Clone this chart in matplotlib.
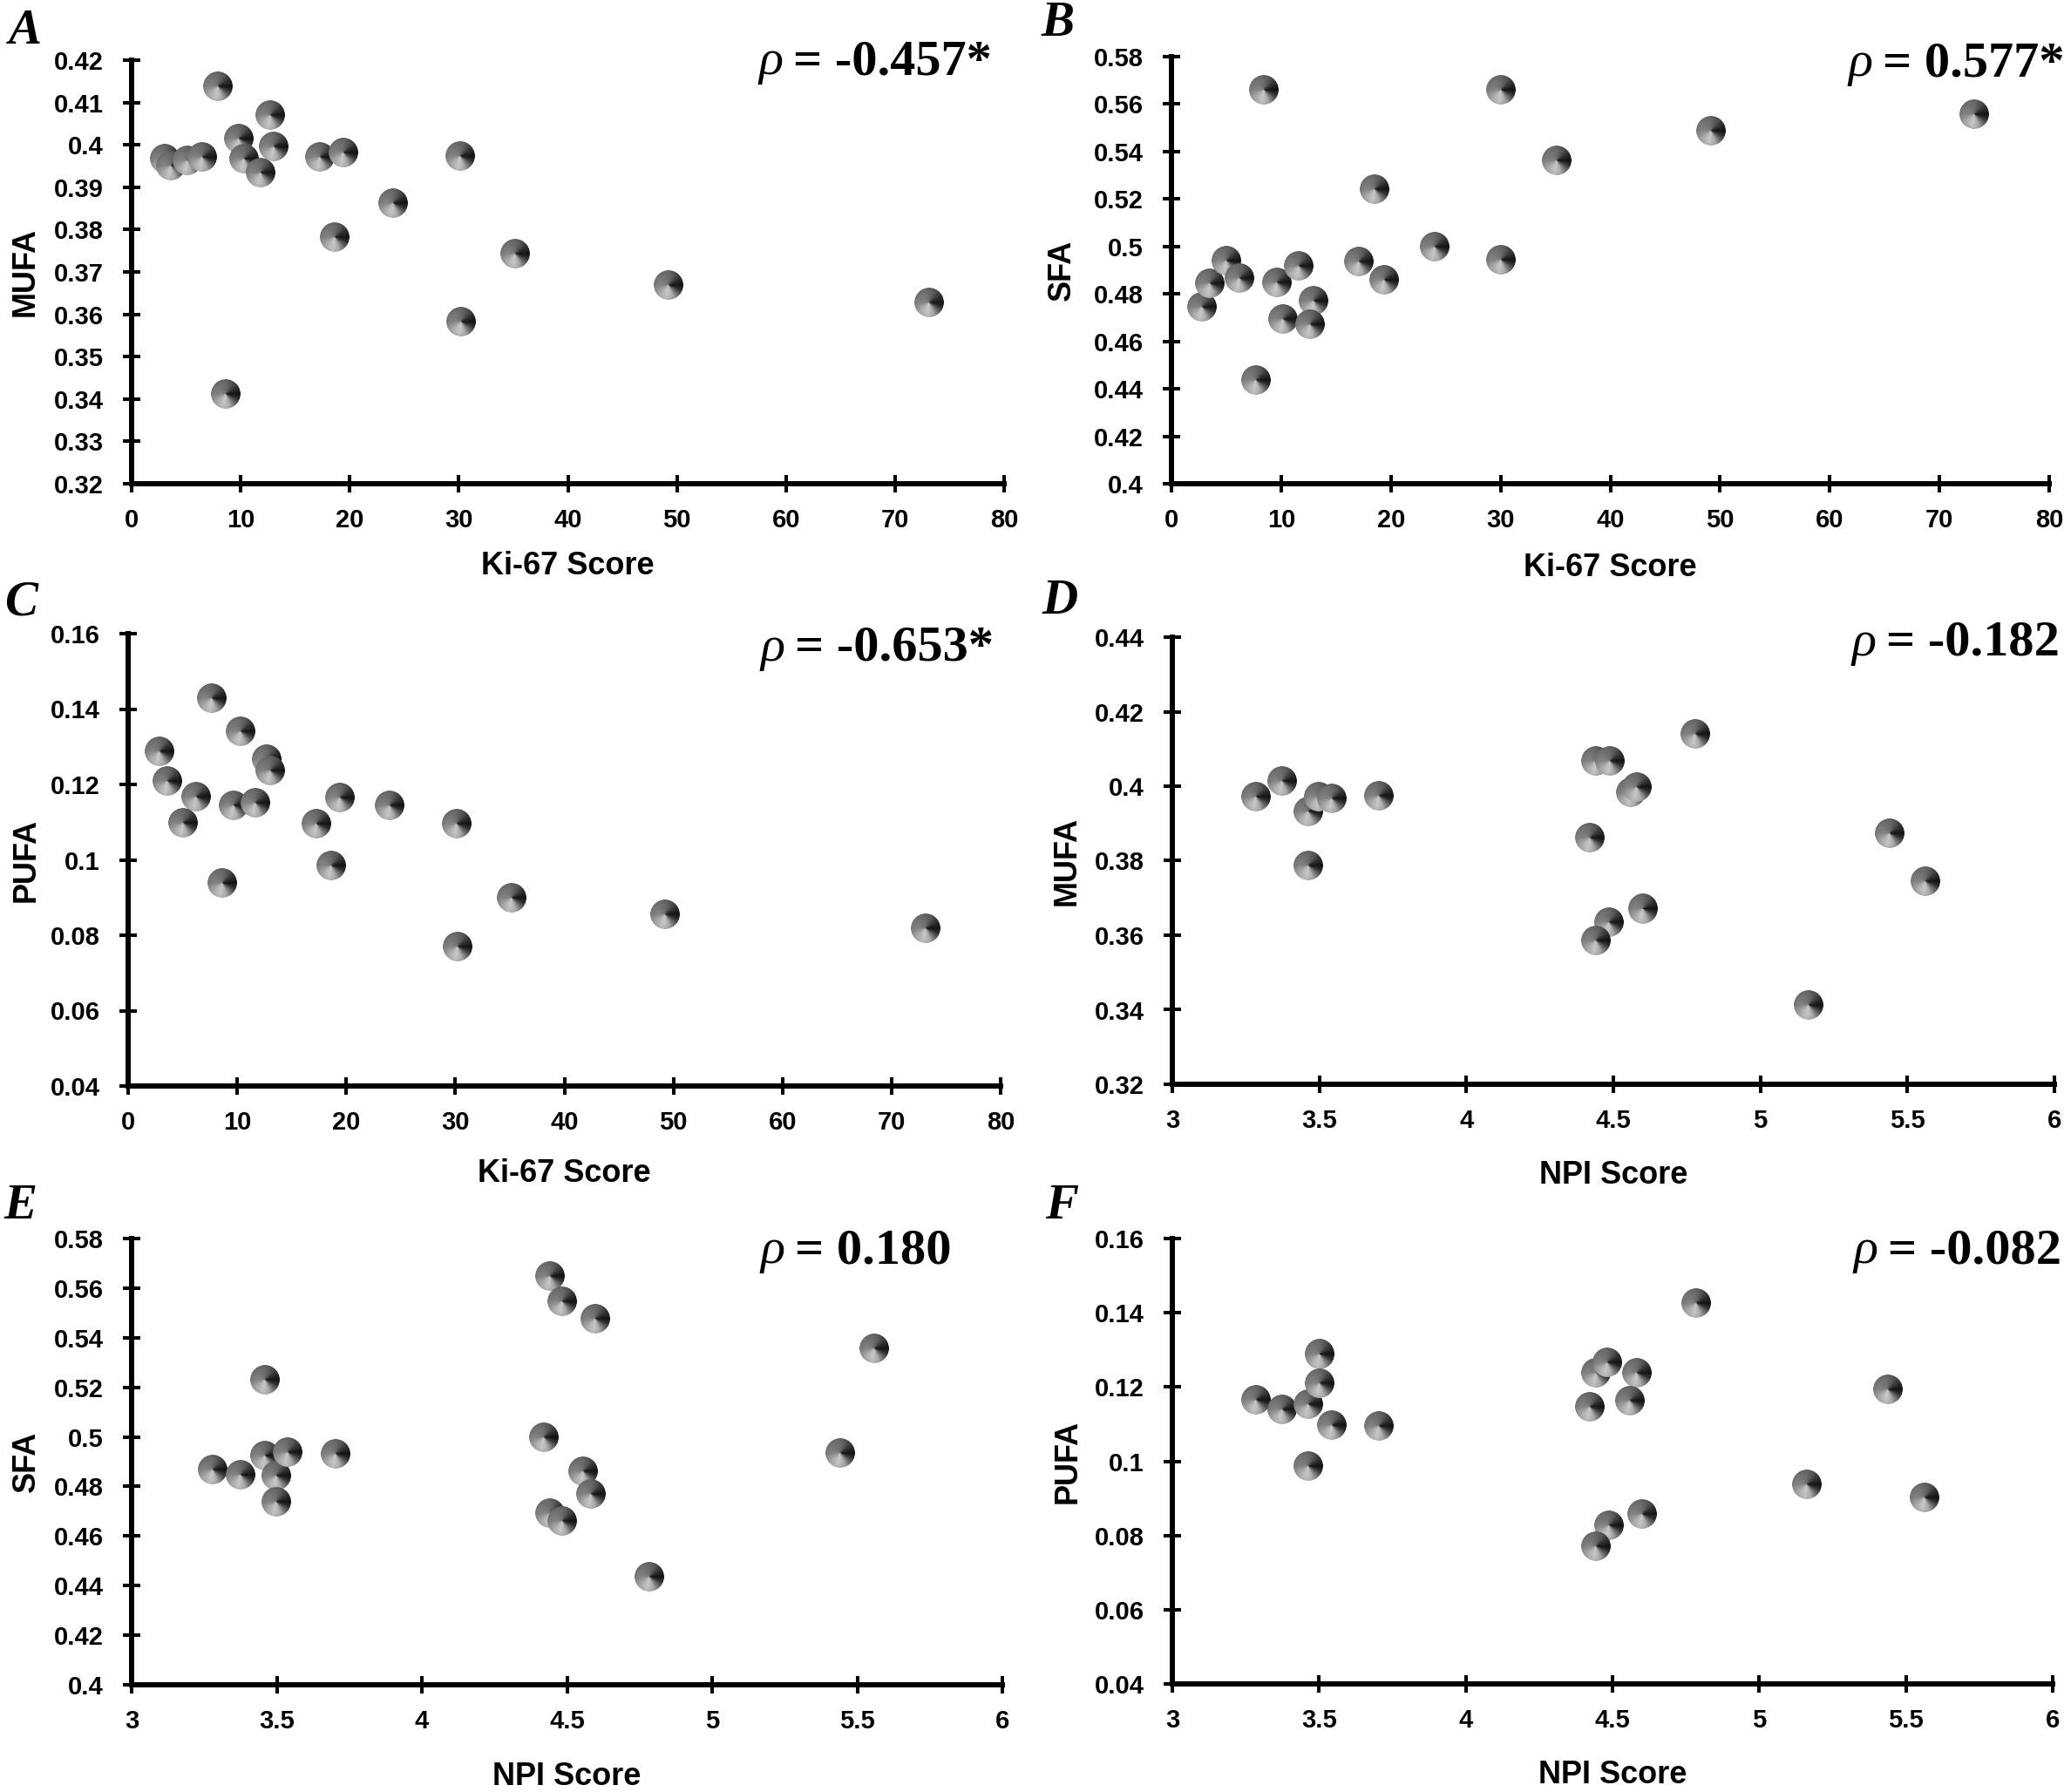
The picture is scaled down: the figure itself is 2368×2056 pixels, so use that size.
import numpy as np
import matplotlib
matplotlib.use('Agg')
import matplotlib.pyplot as plt
from matplotlib.offsetbox import OffsetImage, AnnotationBbox

# ---- data ----
# A: Ki-67 vs MUFA
ki67_a = [3.0, 3.6, 5.1, 6.5, 7.9, 8.6, 9.8, 10.3, 11.8, 12.7, 13.0, 17.3, 19.4, 18.6, 24.0, 30.1, 30.2, 35.2, 49.2, 73.1]
mufa_a = [0.3968, 0.395, 0.3963, 0.3972, 0.4139, 0.3412, 0.4014, 0.3968, 0.3934, 0.4071, 0.3996, 0.3972, 0.3981,
          0.3783, 0.3863, 0.3973, 0.3582, 0.3743, 0.3669, 0.3629]
# B: Ki-67 vs SFA
ki67_b = [2.8, 3.5, 5.0, 6.2, 7.7, 8.4, 9.6, 10.2, 11.6, 12.96, 12.6, 17.1, 18.5, 19.4, 24.0, 30.0, 30.0, 35.1, 49.2, 73.2]
sfa_b = [0.4745, 0.4844, 0.494, 0.4868, 0.4438, 0.5661, 0.4847, 0.4693, 0.4919, 0.4773, 0.4672, 0.4935, 0.5243,
         0.486, 0.5, 0.5661, 0.4943, 0.5362, 0.5486, 0.5556]
# C: Ki-67 vs PUFA
ki67_c = [2.9, 3.6, 6.2, 5.0, 7.7, 8.6, 10.3, 9.7, 11.7, 12.7, 13.0, 17.3, 19.4, 18.6, 24.0, 30.1, 30.2, 35.2, 49.2, 73.1]
pufa_c = [0.1289, 0.121, 0.1167, 0.1099, 0.143, 0.0938, 0.134, 0.1144, 0.1152, 0.1267, 0.1237, 0.1095, 0.1165,
          0.0986, 0.1145, 0.1095, 0.0771, 0.09, 0.0856, 0.0819]
# D: NPI vs MUFA
npi_d = [3.284, 3.374, 3.463, 3.497, 3.542, 3.463, 3.703, 4.442, 4.487, 4.78, 4.56, 4.58, 4.42, 4.486, 4.442,
         4.60, 5.165, 5.44, 5.56]
mufa_d = [0.3972, 0.4014, 0.3931, 0.3972, 0.3967, 0.3787, 0.3975, 0.4068, 0.4068, 0.4141, 0.3984, 0.3997, 0.3863,
          0.3635, 0.3586, 0.3671, 0.3413, 0.3873, 0.3746]
# E: NPI vs SFA
npi_e = [3.279, 3.374, 3.458, 3.458, 3.499, 3.499, 3.537, 3.703, 4.442, 4.483, 4.599, 4.42, 4.556, 4.583, 4.442,
         4.483, 4.785, 5.442, 5.56]
sfa_e = [0.487, 0.4848, 0.523, 0.4926, 0.4842, 0.474, 0.4938, 0.4933, 0.565, 0.5546, 0.5476, 0.4997, 0.486,
         0.4771, 0.4694, 0.4662, 0.4436, 0.4935, 0.5356]
# F: NPI vs PUFA
npi_f = [3.285, 3.375, 3.464, 3.503, 3.503, 3.545, 3.464, 3.705, 4.443, 4.481, 4.582, 4.422, 4.559, 4.784, 4.487,
         4.443, 4.602, 5.163, 5.439, 5.562]
pufa_f = [0.1166, 0.114, 0.1154, 0.1287, 0.121, 0.1098, 0.0987, 0.1096, 0.1238, 0.1266, 0.1238, 0.1146, 0.1163,
          0.1427, 0.0828, 0.077, 0.0857, 0.0938, 0.1193, 0.0902]

letters = ['A', 'B', 'C', 'D', 'E', 'F']
rho_texts = ['= -0.457*', '= 0.577*', '= -0.653*', '= -0.182', '= 0.180', '= -0.082']
xlabels = ['Ki-67 Score', 'Ki-67 Score', 'Ki-67 Score', 'NPI Score', 'NPI Score', 'NPI Score']
ylabels = ['MUFA', 'SFA', 'PUFA', 'MUFA', 'SFA', 'PUFA']

W, H = 2368, 2056
fig = plt.figure(figsize=(W / 100, H / 100), dpi=100)
fig.patch.set_facecolor('white')


def ball_image(n=99):
    """grey metallic ball with a conic shading"""
    yy, xx = np.mgrid[0:n, 0:n]
    c = (n - 1) / 2
    dx = (xx - c) / c
    dy = (c - yy) / c
    r = np.hypot(dx, dy)
    ang = np.degrees(np.arctan2(dy, dx)) % 360
    angs = [0, 30, 60, 90, 135, 180, 225, 260, 290, 315, 340, 360]
    vals = [20, 50, 88, 108, 120, 132, 178, 202, 176, 112, 48, 20]
    g = np.interp(ang, angs, vals) / 255.0
    g = g * (1 - 0.12 * r ** 4)
    alpha = np.clip((1 - r) * c / 2.0 + 0.5, 0, 1)
    return np.dstack([g, g, g, alpha])


ball = ball_image()
ball_zoom = 34 / (99 * 100 / 72)

# panel geometry in pixels: left, right, top, bottom
boxes = [(151, 1152, 69, 555), (1344, 2351, 65, 555),
         (147, 1148, 727, 1246), (1345, 2357, 731, 1244),
         (151, 1150, 1421, 1933), (1345, 2355, 1421, 1932)]
xlab_off = [95, 97, 101, 104, 105, 104]
ylab_off = [122, 126, 117, 121, 121, 120]
letter_pos = [(10, 50), (1195, 41), (5, 706), (1195, 704), (4, 1398), (1199, 1398)]
rho_pos = [(870, 85), (2120, 87), (872, 758), (2124, 752), (872, 1449), (2126, 1449)]

series = [(ki67_a, mufa_a), (ki67_b, sfa_b), (ki67_c, pufa_c),
          (npi_d, mufa_d), (npi_e, sfa_e), (npi_f, pufa_f)]
ylims = [(0.32, 0.42, 0.01), (0.4, 0.58, 0.02), (0.04, 0.16, 0.02),
         (0.32, 0.44, 0.02), (0.4, 0.58, 0.02), (0.04, 0.16, 0.02)]

tick_font = dict(family='Liberation Sans', weight='bold', size=21)

for i in range(6):
    l, r, t, b = boxes[i]
    ax = fig.add_axes([l / W, 1 - b / H, (r - l) / W, (b - t) / H])
    xs, ys = series[i]
    for x, y in zip(xs, ys):
        ab = AnnotationBbox(OffsetImage(ball, zoom=ball_zoom, interpolation='antialiased'),
                            (x, y), xycoords='data', frameon=False, pad=0)
        ax.add_artist(ab)

    if i < 3:
        ax.set_xlim(0, 80)
        ax.set_xticks(range(0, 81, 10))
    else:
        ax.set_xlim(3, 6)
        ax.set_xticks(np.arange(3, 6.01, 0.5))
    y0, y1, step = ylims[i]
    ax.set_ylim(y0, y1)
    yt = np.round(np.arange(y0, y1 + step / 2, step), 3)
    ax.set_yticks(yt)
    ax.set_yticklabels(['{:g}'.format(v) for v in yt], fontdict=tick_font)
    ax.set_xticklabels(['{:g}'.format(v) for v in ax.get_xticks()], fontdict=tick_font)

    for s in ['top', 'right']:
        ax.spines[s].set_visible(False)
    for s in ['left', 'bottom']:
        ax.spines[s].set_linewidth(4.3)
    ax.tick_params(axis='both', direction='inout', length=14.4, width=2.9)
    ax.tick_params(axis='y', pad=16)
    ax.tick_params(axis='x', pad=13)

    ax.set_xlabel(xlabels[i], family='Liberation Sans', weight='bold', fontsize=26, va='center')
    ax.set_ylabel(ylabels[i], family='Liberation Sans', weight='bold', fontsize=26, va='center')
    ax.xaxis.set_label_coords(0.5, -xlab_off[i] / (b - t))
    ax.yaxis.set_label_coords(-ylab_off[i] / (r - l), 0.5)

    # panel letter
    lx, ly = letter_pos[i]
    fig.text(lx / W, 1 - ly / H, letters[i], family='Liberation Serif', weight='bold',
             style='italic', fontsize=41, va='baseline', ha='left')

    # spearman rho
    rx, ry = rho_pos[i]
    rho = fig.text(rx / W, 1 - ry / H, 'ρ', family='Liberation Serif', style='italic',
                   fontsize=42, va='baseline', ha='left')
    ax.annotate(rho_texts[i], xy=(1, 0), xycoords=rho, xytext=(9, 0), textcoords='offset points',
                family='Liberation Serif', weight='bold', fontsize=42, va='bottom', ha='left')

fig.savefig('out.png', dpi=100, facecolor='white')
